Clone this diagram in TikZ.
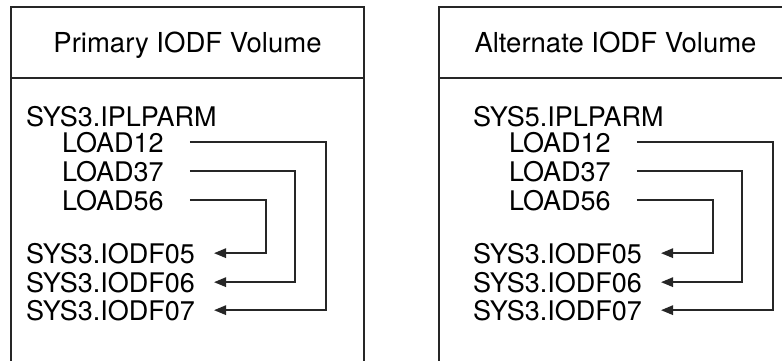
\documentclass[tikz,border=0pt]{standalone}
\usepackage{fontspec}
\setmainfont{TeX Gyre Heros}
\usetikzlibrary{arrows.meta}

\begin{document}
\begin{tikzpicture}[
    x=1pt, y=-1pt,
    panel/.style={draw=black!85, line width=1.8pt},
    title/.style={anchor=base, inner sep=0pt, font=\fontsize{27.5}{30}\selectfont},
    entry/.style={anchor=base west, inner sep=0pt, font=\fontsize{27}{30}\selectfont},
    link/.style={draw=black!85, line width=1.5pt, -{Triangle[length=12pt,width=9.5pt]}}
]
\useasboundingbox (0,0) rectangle (782,360);
\clip (0,0) rectangle (782,360);

% Primary volume
\draw[panel] (11,7) rectangle (364,400);
\draw[panel] (11,78) -- (364,78);
\node[title] (pri-title) at (187.5,52) {Primary IODF Volume};
\node[entry] (pri-parm) at (26,126) {SYS3.IPLPARM};
\node[entry] (pri-l12) at (62,152) {LOAD12};
\node[entry] (pri-l37) at (62,181) {LOAD37};
\node[entry] (pri-l56) at (62,210) {LOAD56};
\node[entry] (pri-f05) at (26,263) {SYS3.IODF05};
\node[entry] (pri-f06) at (26,292) {SYS3.IODF06};
\node[entry] (pri-f07) at (26,320) {SYS3.IODF07};

% Alternate volume
\draw[panel] (439,7) rectangle (792,400);
\draw[panel] (439,78) -- (792,78);
\node[title] (alt-title) at (615.5,52) {Alternate IODF Volume};
\node[entry] (alt-parm) at (473,126) {SYS5.IPLPARM};
\node[entry] (alt-l12) at (509,152) {LOAD12};
\node[entry] (alt-l37) at (509,181) {LOAD37};
\node[entry] (alt-l56) at (509,210) {LOAD56};
\node[entry] (alt-f05) at (473,263) {SYS3.IODF05};
\node[entry] (alt-f06) at (473,292) {SYS3.IODF06};
\node[entry] (alt-f07) at (473,320) {SYS3.IODF07};

% Arrows
\draw[link] ([xshift=26]pri-l12.east) -- ++(136,0) |- ([xshift=19]pri-f07.east);
\draw[link] ([xshift=26]pri-l37.east) -- ++(105,0) |- ([xshift=19]pri-f06.east);
\draw[link] ([xshift=26]pri-l56.east) -- ++(76,0) |- ([xshift=19]pri-f05.east);
\draw[link] ([xshift=26]alt-l12.east) -- ++(136,0) |- ([xshift=19]alt-f07.east);
\draw[link] ([xshift=26]alt-l37.east) -- ++(105,0) |- ([xshift=19]alt-f06.east);
\draw[link] ([xshift=26]alt-l56.east) -- ++(76,0) |- ([xshift=19]alt-f05.east);

\end{tikzpicture}
\end{document}
